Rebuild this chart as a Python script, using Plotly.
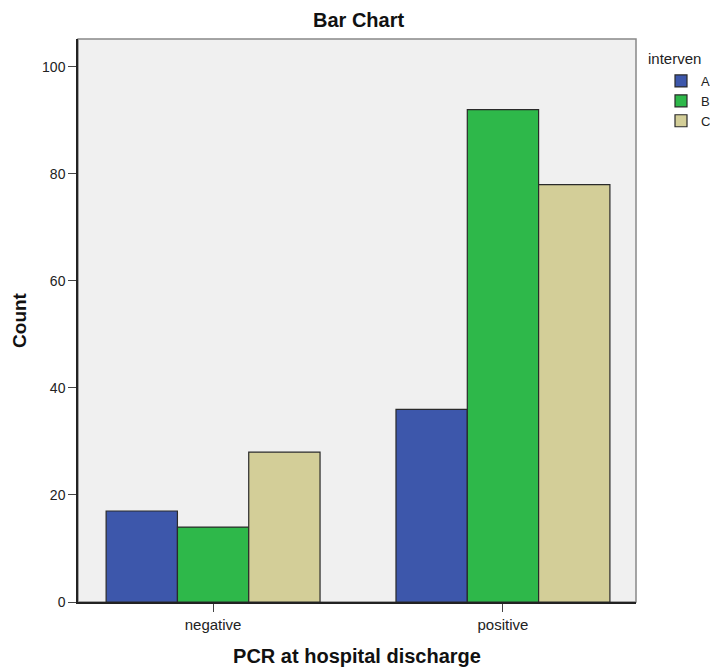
import plotly.graph_objects as go

categories = ["negative", "positive"]
groups = ["A", "B", "C"]
counts_A = [17, 36]
counts_B = [14, 92]
counts_C = [28, 78]
colors = {"A": "#3D57AB", "B": "#2EB84A", "C": "#D3CE98"}

series = {"A": counts_A, "B": counts_B, "C": counts_C}

fig = go.Figure()
for g in groups:
    fig.add_trace(go.Bar(
        x=categories, y=series[g], name=g,
        marker=dict(color=colors[g], line=dict(color="#2a2a2a", width=1.2)),
    ))

font = "Liberation Sans, Arial, sans-serif"
fig.update_layout(
    width=710, height=669,
    margin=dict(l=78, r=74, t=39, b=67, autoexpand=False),
    paper_bgcolor="white", plot_bgcolor="#F0F0F0",
    barmode="group", bargap=0.262, bargroupgap=0,
    font=dict(family=font, size=12, color="#222"),
    title=dict(text="<b>Bar Chart</b>", x=357 / 710, xanchor="center", xref="paper",
               y=1 - 20 / 669, yanchor="middle", font=dict(size=20, color="#111")),
    showlegend=True,
    legend=dict(x=(661 - 78) / 558, xanchor="left", y=1 + (39 - 66) / 563, yanchor="top",
                font=dict(size=13), bgcolor="rgba(0,0,0,0)",
                tracegroupgap=0, itemwidth=30),
    xaxis=dict(range=[-0.466, 1.459], showline=True, linecolor="#222", linewidth=1.5,
               mirror=False, ticks="outside", ticklen=8, tickcolor="#444", automargin=False,
               tickfont=dict(size=15), showgrid=False, zeroline=False,
               title=dict(text="<b>PCR at hospital discharge</b>", font=dict(size=20, color="#111"),
                          standoff=17)),
    yaxis=dict(range=[0, 105.2], showline=True, linecolor="#222", linewidth=1.5, automargin=False,
               ticks="outside", ticklen=8, tickcolor="#444", tickvals=[0, 20, 40, 60, 80, 100],
               tickfont=dict(size=14), showgrid=False, zeroline=False,
               title=dict(text="<b>Count</b>", font=dict(size=19, color="#111"), standoff=10)),
)
fig.add_annotation(text="interven", xref="paper", yref="paper",
                   x=(646 - 78) / 558, xanchor="left", y=1 + (39 - 58) / 563, yanchor="middle",
                   showarrow=False, font=dict(size=15, color="#222"))
# light border on top/right of plot area
fig.add_shape(type="rect", xref="paper", yref="paper", x0=0, x1=1, y0=0, y1=1,
              line=dict(color="#888", width=1.5), layer="below")
fig.write_html("out.html", config={"displayModeBar": False},
               post_script="document.body.style.margin='0';")
